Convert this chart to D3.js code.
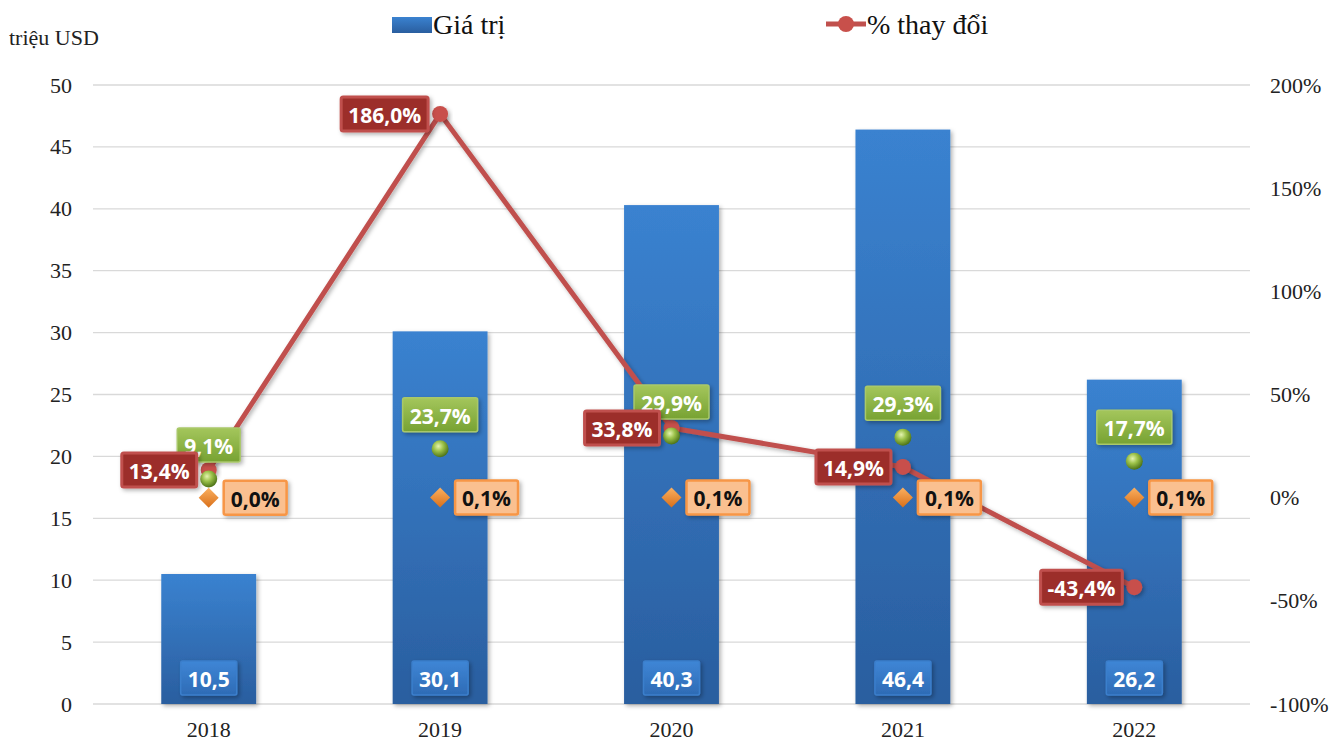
<!DOCTYPE html>
<html><head><meta charset="utf-8">
<script src="https://cdn.jsdelivr.net/npm/d3@7"></script>
<style>body{margin:0;background:#fff}svg{display:block}
.serif{font-family:"Liberation Serif","Times New Roman",serif !important}
</style>
</head><body><svg id="c" width="1340" height="744"></svg>
<script>
const years = ["2018","2019","2020","2021","2022"];
const values = [10.5, 30.1, 40.3, 46.4, 26.2];
const changePct = [13.4, 186.0, 33.8, 14.9, -43.4];
const sharePct = [9.1, 23.7, 29.9, 29.3, 17.7];
const minorPct = [0.0, 0.1, 0.1, 0.1, 0.1];
const leftTicks = [0,5,10,15,20,25,30,35,40,45,50];
const rightTicks = [-100,-50,0,50,100,150,200];
const fmt = v => v.toFixed(1).replace(".", ",");
const fmtP = v => fmt(v) + "%";

const svg = d3.select("#c");
const L = 93, R = 1250, T = 85, B = 704;
const x = d3.scaleBand().domain(years).range([L, R]).paddingInner(0.59).paddingOuter(0.295);
const y = d3.scaleLinear().domain([0, 50]).range([B, T]);
const y2 = d3.scaleLinear().domain([-100, 200]).range([B, T]);
const cx = d => x(d) + x.bandwidth() / 2;

const defs = svg.append("defs");
const bg = defs.append("linearGradient").attr("id","barG").attr("x1",0).attr("y1",0).attr("x2",0).attr("y2",1);
bg.append("stop").attr("offset","0%").attr("stop-color","#3a82d0");
bg.append("stop").attr("offset","100%").attr("stop-color","#2a5e9f");
const gg = defs.append("linearGradient").attr("id","grnG").attr("x1",0).attr("y1",0).attr("x2",0).attr("y2",1);
gg.append("stop").attr("offset","0%").attr("stop-color","#a4c65c");
gg.append("stop").attr("offset","100%").attr("stop-color","#77a232");
const rg = defs.append("radialGradient").attr("id","ballG").attr("cx","40%").attr("cy","35%").attr("r","65%");
rg.append("stop").attr("offset","0%").attr("stop-color","#e4f3b0");
rg.append("stop").attr("offset","45%").attr("stop-color","#9cc24a");
rg.append("stop").attr("offset","100%").attr("stop-color","#4e7418");
const og = defs.append("linearGradient").attr("id","oraG").attr("x1",0).attr("y1",0).attr("x2",0).attr("y2",1);
og.append("stop").attr("offset","0%").attr("stop-color","#fbb060");
og.append("stop").attr("offset","100%").attr("stop-color","#d9701a");
const lb = defs.append("linearGradient").attr("id","lblB").attr("x1",0).attr("y1",0).attr("x2",0).attr("y2",1);
lb.append("stop").attr("offset","0%").attr("stop-color","#3f86d6");
lb.append("stop").attr("offset","100%").attr("stop-color","#2e6bb5");
const sh = defs.append("filter").attr("id","sh").attr("x","-20%").attr("y","-20%").attr("width","150%").attr("height","150%");
sh.append("feDropShadow").attr("dx",2).attr("dy",2).attr("stdDeviation",2).attr("flood-color","#000").attr("flood-opacity",0.3);

// gridlines
svg.append("g").selectAll("line").data(leftTicks).join("line")
  .attr("x1", L).attr("x2", R).attr("y1", d => y(d)).attr("y2", d => y(d))
  .attr("stroke", "#d9d9d9").attr("stroke-width", 1.3);

// axes
const ax = svg.append("g").attr("transform", `translate(${L},0)`)
  .call(d3.axisLeft(y).tickValues(leftTicks).tickSize(0).tickPadding(21));
const ax2 = svg.append("g").attr("transform", `translate(${R},0)`)
  .call(d3.axisRight(y2).tickValues(rightTicks).tickSize(0).tickPadding(20).tickFormat(d => d + "%"));
const axb = svg.append("g").attr("transform", `translate(0,${B})`)
  .call(d3.axisBottom(x).tickSize(0).tickPadding(17));
[ax, ax2, axb].forEach(g => {
  g.select(".domain").remove();
  g.attr("font-family", null).attr("font-size", null);
  g.selectAll("text").attr("class","serif").style("font-size", "22px").attr("fill", "#222");
});
svg.append("text").attr("class","serif").attr("x", 9).attr("y", 45).text("triệu USD")
  .style("font-size", "22px").attr("fill", "#222");

// bars
svg.append("g").selectAll("rect").data(years).join("rect")
  .attr("x", d => x(d)).attr("width", x.bandwidth())
  .attr("y", (d,i) => y(values[i])).attr("height", (d,i) => B - y(values[i]))
  .attr("fill", "url(#barG)").attr("filter", "url(#sh)");

// line
const line = d3.line().x((d,i) => cx(years[i])).y(d => y2(d));
svg.append("path").datum(changePct).attr("d", line).attr("fill","none")
  .attr("stroke","#c0504d").attr("stroke-width",5).attr("stroke-linejoin","round").attr("filter","url(#sh)");
svg.append("g").selectAll("circle").data(changePct).join("circle")
  .attr("cx",(d,i)=>cx(years[i])).attr("cy",d=>y2(d)).attr("r",8).attr("fill","#c8504b").attr("filter","url(#sh)");

// hidden series markers
svg.append("g").selectAll("circle").data(sharePct).join("circle")
  .attr("cx",(d,i)=>cx(years[i])).attr("cy",d=>y2(d)).attr("r",8.5).attr("fill","url(#ballG)");
svg.append("g").selectAll("path").data(minorPct).join("path")
  .attr("transform",(d,i)=>`translate(${cx(years[i])},${y2(d)})`)
  .attr("d","M0,-10L10,0L0,10L-10,0Z").attr("fill","url(#oraG)");

const sans = "'Open Sans','Noto Sans',sans-serif";
function label(g, txt, xc, yc, opt) {
  const grp = g.append("g");
  const t = grp.append("text").text(txt).attr("font-family", sans).attr("font-weight", 700)
    .attr("font-size", 21).attr("fill", opt.color).attr("dominant-baseline","central");
  const w = t.node().getComputedTextLength() + 14, h = 34;
  let x0;
  if (opt.anchor === "right") x0 = xc - w; else if (opt.anchor === "left") x0 = xc; else x0 = xc - w/2;
  const y0 = opt.vAnchor === "bottom" ? yc - h : yc - h/2;
  grp.insert("rect","text").attr("x",x0).attr("y",y0).attr("width",w).attr("height",h)
    .attr("fill",opt.fill).attr("stroke",opt.stroke).attr("stroke-width",opt.sw||3)
    .attr("rx",2).attr("filter","url(#sh)");
  t.attr("x", x0 + w/2).attr("y", y0 + h/2 + 1).attr("text-anchor","middle");
}
const lg = svg.append("g");
years.forEach((yr, i) => {
  const c = cx(yr);
  label(lg, fmt(values[i]), c, 678, {fill:"url(#lblB)", stroke:"#3b7fcc", sw:1.5, color:"#fff"});
  label(lg, fmtP(minorPct[i]), c + 15, y2(minorPct[i]), {anchor:"left", fill:"#fac090", stroke:"#f79646", sw:2.5, color:"#111"});
  label(lg, fmtP(sharePct[i]), c, y2(sharePct[i]) - 17, {vAnchor:"bottom", fill:"url(#grnG)", stroke:"#a9c86a", sw:1.5, color:"#fff"});
  label(lg, fmtP(changePct[i]), c - 12, y2(changePct[i]), {anchor:"right", fill:"#9c2f2b", stroke:"#c0504d", sw:3, color:"#fff"});
});

// legend
const leg = svg.append("g");
leg.append("rect").attr("x",392).attr("y",17).attr("width",40).attr("height",16).attr("fill","url(#barG)");
leg.append("text").attr("class","serif").attr("x",433).attr("y",34).text("Giá trị").style("font-size","28px").attr("fill","#111");
leg.append("line").attr("x1",826).attr("x2",866).attr("y1",24).attr("y2",24).attr("stroke","#c0504d").attr("stroke-width",5);
leg.append("circle").attr("cx",846).attr("cy",24).attr("r",8).attr("fill","#c8504b");
leg.append("text").attr("class","serif").attr("x",867).attr("y",34).text("% thay đổi").style("font-size","28px").attr("fill","#111");
</script></body></html>
